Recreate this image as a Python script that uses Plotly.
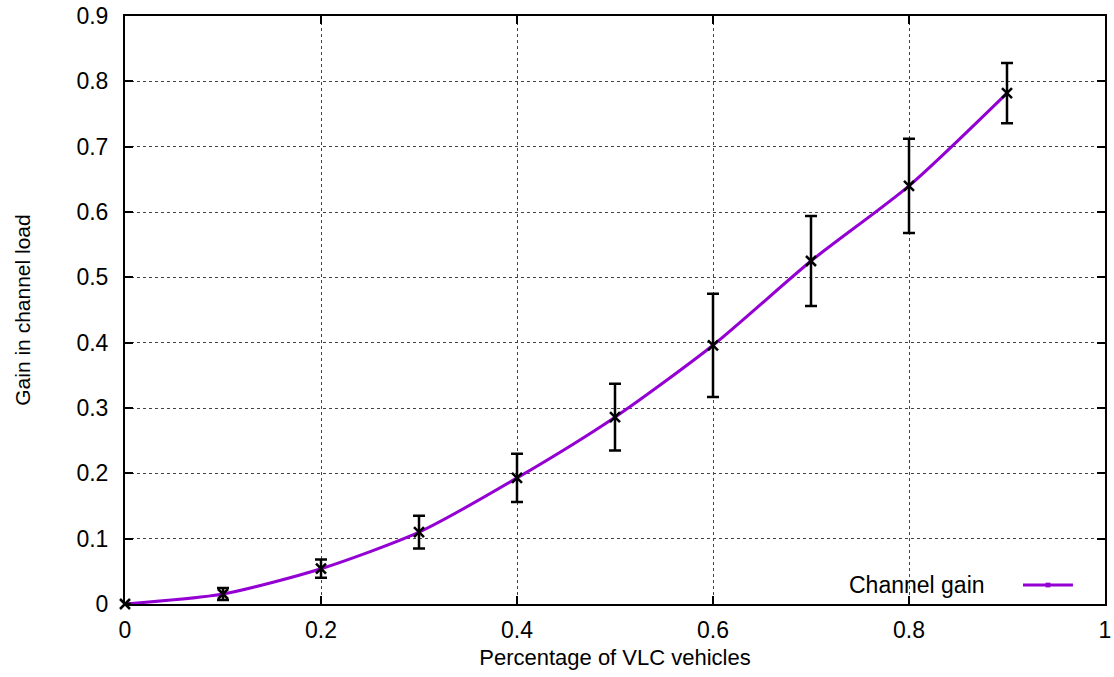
import plotly.graph_objects as go

x_vals = [0.0, 0.1, 0.2, 0.3, 0.4, 0.5, 0.6, 0.7, 0.8, 0.9]
gain = [0.0, 0.0153, 0.054, 0.110, 0.193, 0.286, 0.396, 0.525, 0.640, 0.782]
gain_err = [0.0, 0.009, 0.014, 0.025, 0.037, 0.051, 0.079, 0.069, 0.072, 0.046]
x_ticks = [0, 0.2, 0.4, 0.6, 0.8, 1]
x_tick_text = ["0", "0.2", "0.4", "0.6", "0.8", "1"]
y_ticks = [0, 0.1, 0.2, 0.3, 0.4, 0.5, 0.6, 0.7, 0.8, 0.9]
y_tick_text = ["0", "0.1", "0.2", "0.3", "0.4", "0.5", "0.6", "0.7", "0.8", "0.9"]
series_name = "Channel gain"
line_color = "#9400D3"

FONT = "Liberation Sans, Arial, sans-serif"

fig = go.Figure()
fig.add_trace(go.Scatter(
    x=x_vals, y=gain, mode="lines", line=dict(color=line_color, width=3, shape="spline", smoothing=0.7),
    name=series_name, showlegend=False, hoverinfo="skip"))
fig.add_trace(go.Scatter(
    x=x_vals, y=gain, mode="markers", cliponaxis=False,
    marker=dict(symbol="x-thin", size=10, color="black", line=dict(color="black", width=2.5)),
    error_y=dict(type="data", array=gain_err, visible=True, color="black", thickness=2.5, width=6),
    showlegend=False))

axis_common = dict(
    showline=True, linecolor="black", linewidth=2, mirror="ticks",
    ticks="inside", ticklen=8, tickwidth=1.5, tickcolor="black",
    showgrid=True, gridcolor="#444444", gridwidth=1, griddash="dot",
    zeroline=False, tickfont=dict(family=FONT, size=23, color="black"),
)

fig.update_xaxes(range=[0, 1], tickvals=x_ticks, ticktext=x_tick_text,
                 title=dict(text="Percentage of VLC vehicles", font=dict(family=FONT, size=22, color="black"), standoff=8),
                 ticklabelstandoff=4, **axis_common)
fig.update_yaxes(range=[0, 0.9], tickvals=y_ticks, ticktext=y_tick_text,
                 title=dict(text="Gain in channel load", font=dict(family=FONT, size=21, color="black"), standoff=40),
                 ticklabelstandoff=10, **axis_common)

# legend (gnuplot style: text left, sample right)
fig.add_annotation(xref="paper", yref="paper", x=0.8796, y=0.0323, text=series_name,
                   showarrow=False, xanchor="right", yanchor="middle",
                   font=dict(family=FONT, size=23, color="black"))
fig.add_shape(type="line", xref="paper", yref="paper", x0=0.9163, x1=0.9673, y0=0.0323, y1=0.0323,
              line=dict(color=line_color, width=3))
fig.add_shape(type="rect", xref="paper", yref="paper", x0=0.9418 - 0.0025, x1=0.9418 + 0.0025,
              y0=0.0323 - 0.004, y1=0.0323 + 0.004, fillcolor=line_color, line=dict(width=0))

fig.update_layout(
    width=1114, height=677,
    margin=dict(l=125, r=9, t=16, b=73, autoexpand=False),
    paper_bgcolor="white", plot_bgcolor="white",
    font=dict(family=FONT, color="black"),
)

fig.write_html("out.html", config={"displayModeBar": False},
               post_script="document.body.style.margin='0';document.body.style.overflow='hidden';")
